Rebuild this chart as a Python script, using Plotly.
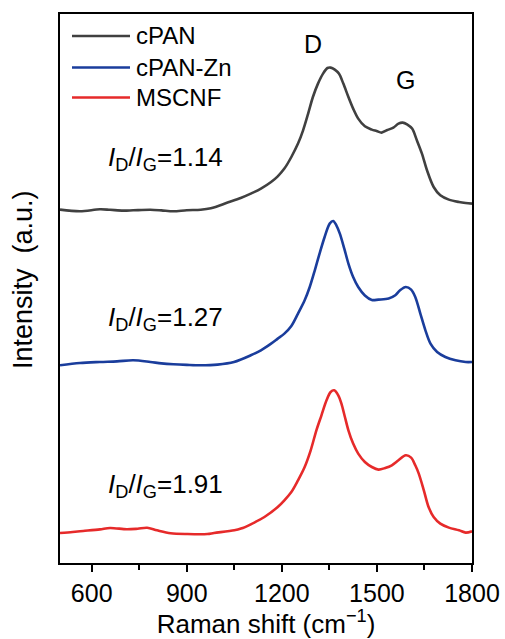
import plotly.graph_objects as go

# ---- data (Raman shift in cm^-1, intensity in arbitrary units, stacked offsets included) ----
cpan_x = [500, 563, 626, 658, 700, 731, 785, 820, 858, 900, 944, 976, 1031, 1070, 1102, 1134, 1166, 1187, 1208,
          1230, 1251, 1267, 1283, 1298, 1314, 1330, 1344, 1354, 1367, 1380, 1394, 1410, 1425, 1441,
          1462, 1484, 1499, 1515, 1531, 1552, 1568, 1581, 1595, 1611, 1626, 1642, 1658, 1679, 1700,
          1727, 1759, 1780, 1800]
cpan_y = [353.4, 351.7, 353.7, 353.2, 352.4, 352.7, 353.2, 352.6, 351.7, 352.8, 353.2, 354.7, 360.7, 365.0, 369.4,
          374.4, 381.0, 386.7, 394.4, 406.0, 419.4, 432.7, 449.4, 466.0, 479.4, 489.4, 495.0, 495.4,
          493.4, 489.4, 479.4, 466.0, 454.4, 444.4, 436.7, 433.4, 432.0, 430.4, 432.7, 435.4, 439.4,
          440.4, 438.7, 434.4, 422.7, 409.4, 392.7, 376.0, 367.7, 363.4, 361.0, 360.0, 359.4]

cpanzn_x = [500, 563, 626, 680, 731, 785, 820, 858, 900, 944, 997, 1049, 1102, 1134, 1166, 1187, 1208, 1230,
            1251, 1272, 1288, 1304, 1319, 1335, 1351, 1362, 1372, 1383, 1397, 1410, 1425, 1441, 1462,
            1484, 1505, 1537, 1558, 1573, 1591, 1608, 1621, 1637, 1653, 1669, 1690, 1716, 1748, 1780, 1800]
cpanzn_y = [197.7, 200.0, 201.0, 201.6, 202.7, 201.0, 199.6, 198.7, 198.1, 197.7, 198.4, 201.0, 207.7, 212.7,
            219.4, 224.4, 229.4, 237.0, 249.4, 262.7, 276.0, 292.7, 309.4, 326.0, 339.4, 342.0, 337.7,
            329.4, 314.4, 299.4, 286.0, 276.0, 267.5, 263.0, 263.4, 264.4, 267.7, 272.7, 276.0, 273.4,
            266.0, 249.4, 232.7, 219.4, 211.0, 206.0, 202.7, 201.0, 201.0]

mscnf_x = [500, 540, 573, 626, 658, 711, 745, 775, 806, 849, 902, 965, 986, 1050, 1071, 1102, 1145, 1187, 1208,
           1230, 1251, 1272, 1291, 1309, 1325, 1341, 1354, 1365, 1378, 1388, 1399, 1410, 1425, 1441,
           1462, 1484, 1505, 1526, 1547, 1568, 1591, 1608, 1621, 1632, 1648, 1663, 1679, 1700, 1727,
           1759, 1780, 1800]
mscnf_y = [30.0, 31.0, 32.0, 33.6, 35.0, 33.7, 34.3, 35.2, 32.7, 29.8, 29.0, 29.0, 30.0, 32.7, 34.4, 38.7,
           46.0, 56.0, 62.7, 71.0, 82.7, 96.0, 112.7, 132.7, 147.7, 162.7, 171.0, 172.7, 167.7, 159.4,
           146.0, 132.7, 119.4, 109.4, 101.0, 96.0, 93.4, 95.0, 97.7, 102.7, 107.7, 105.4, 97.7, 89.4,
           72.7, 56.0, 46.0, 39.4, 35.4, 32.7, 30.4, 31.7]

series_names = ["cPAN", "cPAN-Zn", "MSCNF"]
series_colors = ["#404040", "#1a3d9c", "#e62a2a"]

ratio_labels = ["1.14", "1.27", "1.91"]
ratio_pos = [(833, 405), (833, 245), (833, 78)]
peak_labels = ["D", "G"]
peak_pos = [(1299, 519), (1591, 483)]

tick_vals = [600, 900, 1200, 1500, 1800]

FONT = "Arial, 'Liberation Sans', Helvetica, sans-serif"

fig = go.Figure()
for name, xs, ys, col in zip(series_names, [cpan_x, cpanzn_x, mscnf_x], [cpan_y, cpanzn_y, mscnf_y], series_colors):
    fig.add_trace(go.Scatter(x=xs, y=ys, mode="lines", name=name,
                             line=dict(color=col, width=2.6, shape="spline", smoothing=0.9),
                             showlegend=False))

# manual legend (long line samples like the original)
leg_y = [36, 67.5, 97.5]
for name, col, yy in zip(series_names, series_colors, leg_y):
    fig.add_shape(type="line", xref="paper", yref="paper",
                  x0=(72 - 60) / 412, x1=(130 - 60) / 412,
                  y0=(563 - yy) / 549, y1=(563 - yy) / 549,
                  line=dict(color=col, width=2.6))
    fig.add_annotation(text=name, xref="paper", yref="paper",
                       x=(134 - 60) / 412, y=(563 - yy) / 549, xanchor="left", yanchor="middle",
                       showarrow=False, font=dict(size=24, color="black", family=FONT))

for lab, (xx, yy) in zip(ratio_labels, ratio_pos):
    fig.add_annotation(text="<i>I</i><sub>D</sub>/<i>I</i><sub>G</sub>=" + lab, x=xx, y=yy,
                       xanchor="center", yanchor="middle",
                       showarrow=False, font=dict(size=26, color="black", family=FONT))
for lab, (xx, yy) in zip(peak_labels, peak_pos):
    fig.add_annotation(text=lab, x=xx, y=yy, showarrow=False, xanchor="center", yanchor="middle",
                       font=dict(size=25, color="black", family=FONT))

fig.add_annotation(text="Intensity\u00a0\u00a0(a.u.)", xref="paper", yref="paper",
                   x=(23 - 60) / 412, y=(563 - 280) / 549, textangle=-90,
                   xanchor="center", yanchor="middle",
                   showarrow=False, font=dict(size=27, color="black", family=FONT))

fig.update_xaxes(range=[500, 1800], tickvals=tick_vals, ticks="outside", ticklen=7, tickwidth=1.8,
                 tickcolor="black", showline=True, linewidth=2, linecolor="black", mirror=True,
                 showgrid=False, zeroline=False, automargin=False,
                 minor=dict(tickvals=[750, 1050, 1350, 1650], ticks="outside", ticklen=5, tickwidth=1.8,
                            tickcolor="black", showgrid=False),
                 tickfont=dict(size=25, color="black", family=FONT),
                 title=dict(text="Raman shift (cm<sup>\u22121</sup>)", standoff=11,
                            font=dict(size=26, color="black", family=FONT)))
fig.update_yaxes(range=[0, 549], showticklabels=False, ticks="", showline=True, linewidth=2,
                 linecolor="black", mirror=True, showgrid=False, zeroline=False, automargin=False)

fig.update_layout(width=505, height=639, margin=dict(l=60, r=33, t=14, b=76, autoexpand=False),
                  plot_bgcolor="white", paper_bgcolor="white", showlegend=False,
                  font=dict(family=FONT, color="black"))

fig.write_html("out.html")
